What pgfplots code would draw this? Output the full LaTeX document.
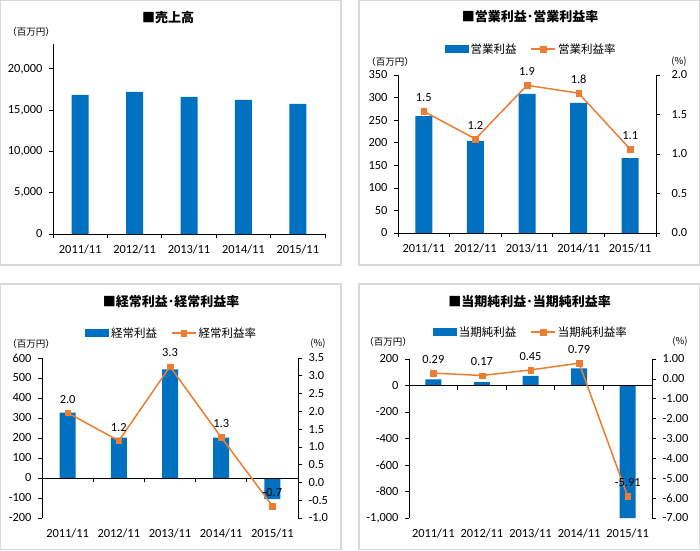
\documentclass[border=0pt]{standalone}
\usepackage{fontspec}
\setmainfont{Carlito}
\newfontfamily\jp{Noto Sans CJK JP}
\usepackage{pgfplots}
\pgfplotsset{compat=1.18}

\definecolor{barblue}{HTML}{0070C0}
\definecolor{lineorange}{HTML}{ED7D31}
\definecolor{panelframe}{HTML}{D9D9D9}

\newcommand{\tk}{\fontsize{12.4}{14}\selectfont}
\newcommand{\jpt}{\jp\bfseries\fontsize{13}{15}\selectfont}
\newcommand{\jpl}{\jp\fontsize{11.5}{13}\selectfont}
\newcommand{\jps}{\jp\fontsize{9.5}{11}\selectfont}

\pgfplotsset{
  panel/.style={
    scale only axis, anchor=south west,
    xmin=-0.5, xmax=4.5,
    tick align=outside,
    major tick length=4pt, minor tick length=4pt,
    tick style={black, line width=0.7pt},
    axis line style={black, line width=0.8pt, -},
    ticklabel style={font=\tk},
    /pgf/number format/assume math mode=true,
    scaled y ticks=false,
    clip=false,
  },
  leftaxis/.style={panel, axis y line*=left, axis x line*=bottom,
    xtick={-0.5,0.5,1.5,2.5,3.5,4.5},
    x tick label as interval,
    xticklabels={2011/11,2012/11,2013/11,2014/11,2015/11,{}},
    xticklabel style={yshift=-3pt},
    yticklabel style={xshift=-3pt}},
  rightaxis/.style={panel, axis y line*=right, axis x line=none, xtick=\empty,
    yticklabel style={/pgf/number format/fixed, /pgf/number format/fixed zerofill,
      /pgf/number format/precision=#1, xshift=3pt}},
  bars/.style={ybar, bar width=#1, fill=barblue, draw=none,
    legend image code/.code={\fill[barblue] (0pt,-4pt) rectangle (24pt,4pt);}},
  ratio/.style={lineorange, line width=1.5pt, mark=square*, mark size=2.8pt,
    mark options={line width=0.4pt},
    nodes near coords={\pgfmathprintnumber[fixed, fixed zerofill, precision=#1, assume math mode=true]{\pgfplotspointmeta}},
    nodes near coords style={font=\tk, text=black, anchor=south, yshift=6pt}},
  ratiolegend/.style={lineorange, line width=1.5pt, mark=square*, mark size=2.8pt,
    mark options={line width=0.4pt},
    legend image code/.code={\draw[mark repeat=2, mark phase=2] plot coordinates {(0pt,0pt) (12pt,0pt) (24pt,0pt)};}},
  panellegend/.style={legend style={draw=none, fill=none, font=\jpl, legend columns=2,
      at={#1}, anchor=center,
      /tikz/every even column/.append style={column sep=12pt}},
    legend cell align=left},
}

\begin{document}
\begin{tikzpicture}[x=1pt, y=1pt]
\path[use as bounding box, fill=white] (0,0) rectangle (700,550);
\draw[panelframe, line width=1.2pt] (0.6,285) rectangle (341,549.4);
\draw[panelframe, line width=1.2pt] (359,285) rectangle (699.4,549.4);
\draw[panelframe, line width=1.2pt] (0.6,0.6) rectangle (341,266);
\draw[panelframe, line width=1.2pt] (359,0.6) rectangle (699.4,266);

% ---- 売上高 ----
\node[font=\jpt] at (168,532) {■売上高};
\node[font=\jps] at (31,518) {（百万円）};
\begin{axis}[leftaxis, at={(53pt,316pt)}, width=272pt, height=190pt,
    ymin=0, ymax=23000, ytick={0,5000,10000,15000,20000}]
\addplot[bars=17pt] coordinates {(0,16850) (1,17210) (2,16610) (3,16240) (4,15760)};
\end{axis}

% ---- 営業利益・営業利益率 ----
\node[font=\jpt] at (530,533) {■営業利益･営業利益率};
\node[font=\jps] at (390,488) {（百万円）};
\node[font=\jps] at (679,488) {(\%)};
\begin{axis}[leftaxis, at={(398pt,317pt)}, width=258pt, height=158pt,
    ymin=0, ymax=350, ytick={0,50,100,150,200,250,300,350},
    panellegend={(0.516,1.165)}]
\addplot[bars=17pt] coordinates {(0,259) (1,204) (2,308) (3,288) (4,166)};
\addlegendentry{営業利益}
\addlegendimage{ratiolegend}
\addlegendentry{営業利益率}
\end{axis}
\begin{axis}[rightaxis=1, at={(398pt,317pt)}, width=258pt, height=158pt,
    ymin=0, ymax=2, ytick={0,0.5,1,1.5,2},
    yticklabel style={xshift=5pt}]
\addplot[ratio=1] coordinates {(0,1.54) (1,1.19) (2,1.87) (3,1.77) (4,1.06)};
\end{axis}

% ---- 経常利益・経常利益率 ----
\node[font=\jpt] at (171,248) {■経常利益･経常利益率};
\node[font=\jps] at (31,206) {（百万円）};
\node[font=\jps] at (318,206) {(\%)};
\begin{axis}[leftaxis, at={(42pt,32pt)}, width=256pt, height=160pt,
    x axis line style={draw=none}, xtick style={draw=none},
    ymin=-200, ymax=600, ytick={-200,-100,0,100,200,300,400,500,600},
    panellegend={(0.506,1.156)}]
\addplot[bars=16pt] coordinates {(0,327) (1,202) (2,543) (3,202) (4,-106)};
\addlegendentry{経常利益}
\addlegendimage{ratiolegend}
\addlegendentry{経常利益率}
\draw[black, line width=0.8pt] (axis cs:-0.5,0) -- (axis cs:4.5,0);
\pgfplotsinvokeforeach{0.5,1.5,2.5,3.5,4.5}{\draw[black, line width=0.7pt] (axis cs:#1,0) -- ++(0pt,-4pt);}
\end{axis}
\begin{axis}[rightaxis=1, at={(42pt,32pt)}, width=256pt, height=160pt,
    ymin=-1, ymax=3.5, ytick={-1,-0.5,0,0.5,1,1.5,2,2.5,3,3.5}]
\addplot[ratio=1] coordinates {(0,1.96) (1,1.17) (2,3.26) (3,1.27) (4,-0.66)};
\end{axis}

% ---- 当期純利益・当期純利益率 ----
\node[font=\jpt] at (529.5,248) {■当期純利益･当期純利益率};
\node[font=\jps] at (388,208) {（百万円）};
\node[font=\jps] at (680,208) {(\%)};
\begin{axis}[leftaxis, at={(409pt,32pt)}, width=243pt, height=159pt,
    x axis line style={draw=none}, xtick style={draw=none},
    ymin=-1000, ymax=200, ytick={-1000,-800,-600,-400,-200,0,200},
    panellegend={(0.502,1.17)}]
\addplot[bars=16pt] coordinates {(0,46) (1,25) (2,72) (3,130) (4,-1000)};
\addlegendentry{当期純利益}
\addlegendimage{ratiolegend}
\addlegendentry{当期純利益率}
\draw[black, line width=0.8pt] (axis cs:-0.5,0) -- (axis cs:4.5,0);
\pgfplotsinvokeforeach{0.5,1.5,2.5,3.5,4.5}{\draw[black, line width=0.7pt] (axis cs:#1,0) -- ++(0pt,-4pt);}
\end{axis}
\begin{axis}[rightaxis=2, at={(409pt,32pt)}, width=243pt, height=159pt,
    ymin=-7, ymax=1, ytick={-7,-6,-5,-4,-3,-2,-1,0,1}]
\addplot[ratio=2] coordinates {(0,0.29) (1,0.17) (2,0.45) (3,0.79) (4,-5.91)};
\end{axis}
\end{tikzpicture}
\end{document}
